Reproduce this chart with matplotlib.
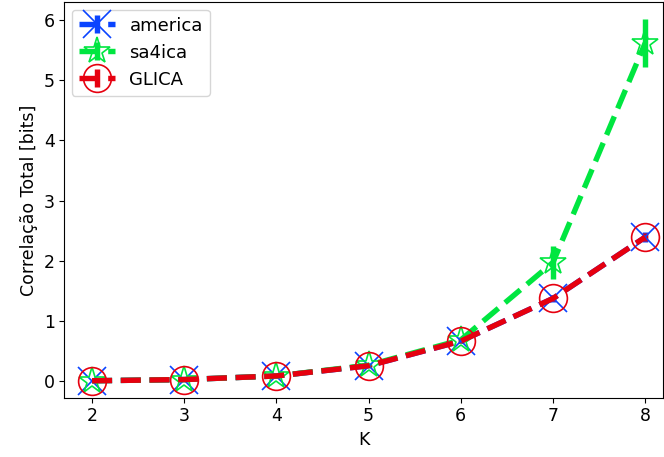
import numpy as np
import matplotlib
matplotlib.use("Agg")
import matplotlib.pyplot as plt

K = [2, 3, 4, 5, 6, 7, 8]

america = [0.0, 0.02, 0.08, 0.25, 0.66, 1.37, 2.39]
america_err = [0.0, 0.0, 0.01, 0.02, 0.03, 0.06, 0.08]

sa4ica = [0.0, 0.02, 0.08, 0.26, 0.68, 1.97, 5.62]
sa4ica_err = [0.0, 0.0, 0.01, 0.03, 0.05, 0.28, 0.40]

glica = [0.0, 0.02, 0.08, 0.25, 0.66, 1.37, 2.39]
glica_err = [0.0, 0.0, 0.01, 0.02, 0.03, 0.05, 0.07]

plt.rcParams["font.size"] = 12.5

fig, ax = plt.subplots(figsize=(6.64, 4.57), dpi=100)
fig.subplots_adjust(left=0.097, right=0.998, top=0.995, bottom=0.13)

style = dict(linestyle="--", linewidth=3.9, elinewidth=3.9, markersize=20,
             markeredgewidth=1.2)
ax.errorbar(K, america, yerr=america_err, color="#0a44ff", marker="x",
            label="america", **style)
ax.errorbar(K, sa4ica, yerr=sa4ica_err, color="#00e640", marker="*",
            markerfacecolor="none", label="sa4ica", **style)
ax.errorbar(K, glica, yerr=glica_err, color="#e6000f", marker="o",
            markerfacecolor="none", label="GLICA", **style)

ax.set_xlim(1.7, 8.19)
ax.set_ylim(-0.28, 6.3)
ax.set_xticks(K)
ax.set_yticks(range(0, 7))
ax.set_xlabel("K")
ax.set_ylabel("Correlação Total [bits]")
ax.legend(loc="upper left", fontsize=13, handlelength=2.0,
          borderaxespad=0.4)

fig.savefig("out.png")
